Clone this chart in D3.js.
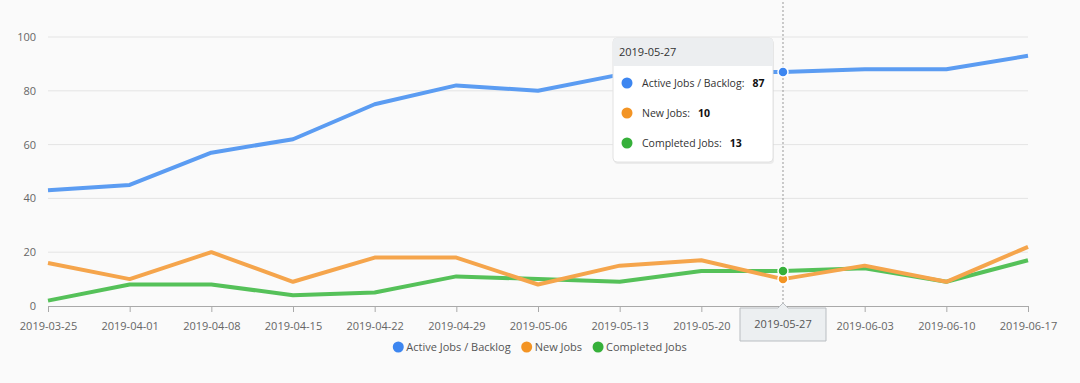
<!DOCTYPE html>
<html><head><meta charset="utf-8">
<script src="https://cdn.jsdelivr.net/npm/d3@7"></script>
<style>
body{margin:0;background:#fafafa;font-family:"Open Sans",sans-serif;}
svg{display:block}
</style></head><body>
<svg id="c" width="1080" height="383"></svg>
<script>
const dates = ["2019-03-25","2019-04-01","2019-04-08","2019-04-15","2019-04-22","2019-04-29","2019-05-06","2019-05-13","2019-05-20","2019-05-27","2019-06-03","2019-06-10","2019-06-17"];
const activeJobs = [43,45,57,62,75,82,80,86,87,87,88,88,93];
const newJobs = [16,10,20,9,18,18,8,15,17,10,15,9,22];
const completedJobs = [2,8,8,4,5,11,10,9,13,13,14,9,17];
const yTicks = [0,20,40,60,80,100];
const seriesNames = ["Active Jobs / Backlog","New Jobs","Completed Jobs"];
const lineColors = ["#5b9cf2","#f5a54c","#55c159"];
const dotColors = ["#3d86f0","#f39424","#36b03a"];
const hoverIndex = 9;

const svg = d3.select("#c");
const x = d3.scalePoint().domain(dates).range([48,1028]);
const y = d3.scaleLinear().domain([0,100]).range([306,37]);

// grid
svg.append("g").selectAll("line").data(yTicks.filter(d=>d>0)).join("line")
  .attr("x1",48).attr("x2",1028).attr("y1",d=>y(d)).attr("y2",d=>y(d))
  .attr("stroke","#e4e4e4").attr("stroke-width",1);

// y axis labels
svg.append("g").selectAll("text").data(yTicks).join("text")
  .attr("x",36).attr("y",d=>y(d)+4).attr("text-anchor","end")
  .attr("font-size",11).attr("fill","#666").text(d=>d);

// x axis
const xAxis = svg.append("g").attr("transform","translate(0,306)")
  .call(d3.axisBottom(x).tickSize(6).tickPadding(10));
xAxis.select(".domain").attr("stroke","#a9a9a9").attr("d","M48,0.5H1028");
xAxis.selectAll(".tick line").attr("stroke","#a9a9a9");
xAxis.selectAll(".tick text").attr("font-size",11).attr("fill","#666").attr("font-family","Open Sans");
xAxis.selectAll(".tick").filter(d=>d===dates[hoverIndex]).select("text").remove();

// crosshair
const cx = x(dates[hoverIndex]);
svg.append("line").attr("x1",cx).attr("x2",cx).attr("y1",2).attr("y2",306)
  .attr("stroke","#999").attr("stroke-dasharray","2,2").attr("stroke-width",1);

// lines
const all = [activeJobs,newJobs,completedJobs];
const line = d3.line().x((d,i)=>x(dates[i])).y(d=>y(d));
[2,1,0].forEach(k=>{
  svg.append("path").datum(all[k]).attr("d",line).attr("fill","none")
    .attr("stroke",lineColors[k]).attr("stroke-width",4).attr("stroke-linejoin","round");
});

// hover markers
all.forEach((s,k)=>{
  svg.append("circle").attr("cx",cx).attr("cy",y(s[hoverIndex])).attr("r",5)
    .attr("fill",dotColors[k]).attr("stroke","#fff").attr("stroke-width",1.5);
});

// crosshair x label box
const bx = cx-43, bw = 86, by = 308, bh = 33;
svg.append("path").attr("d",`M${bx},${by}H${cx-5}L${cx},${by-5}L${cx+5},${by}H${bx+bw}V${by+bh}H${bx}Z`)
  .attr("fill","#eceff1").attr("stroke","#b9bdc1").attr("stroke-width",1);
svg.append("text").attr("x",cx).attr("y",by+20).attr("text-anchor","middle")
  .attr("font-size",11).attr("fill","#555").text(dates[hoverIndex]);

// tooltip
const tx = 613, ty = 38, tw = 160, th = 124;
svg.append("rect").attr("x",tx+1).attr("y",ty+2).attr("width",tw).attr("height",th).attr("rx",4)
  .attr("fill","rgba(0,0,0,0.06)");
svg.append("rect").attr("x",tx).attr("y",ty).attr("width",tw).attr("height",th).attr("rx",4)
  .attr("fill","#fff").attr("stroke","#e2e2e2");
svg.append("path").attr("d",`M${tx+4},${ty}H${tx+tw-4}Q${tx+tw},${ty} ${tx+tw},${ty+4}V${ty+28}H${tx}V${ty+4}Q${tx},${ty} ${tx+4},${ty}Z`)
  .attr("fill","#eceef0");
svg.append("text").attr("x",tx+6).attr("y",ty+18).attr("font-size",11).attr("fill","#333").text(dates[hoverIndex]);
all.forEach((s,k)=>{
  const ry = ty+45+k*30;
  svg.append("circle").attr("cx",tx+14).attr("cy",ry).attr("r",5.5).attr("fill",dotColors[k]);
  const lab = svg.append("text").attr("x",tx+29).attr("y",ry+4).attr("font-size",10.5).attr("fill","#333")
    .text(seriesNames[k]+":");
  const w = lab.node().getComputedTextLength();
  svg.append("text").attr("x",tx+29+w+8).attr("y",ry+4).attr("font-size",10.5).attr("font-weight","bold")
    .attr("fill","#111").text(s[hoverIndex]);
});

// legend
const lg = svg.append("g");
const items = [];
seriesNames.forEach((n,k)=>{
  const g = lg.append("g");
  g.append("circle").attr("cx",5).attr("cy",347).attr("r",5.5).attr("fill",dotColors[k]);
  const t = g.append("text").attr("x",13).attr("y",351).attr("font-size",11).attr("fill","#555").text(n);
  items.push({g, w: 13 + t.node().getComputedTextLength()});
});
const gap = 11;
const total = d3.sum(items, d=>d.w) + gap*(items.length-1);
let lx = 540 - total/2;
items.forEach(it=>{ it.g.attr("transform",`translate(${lx},0)`); lx += it.w + gap; });
</script>
</body></html>
